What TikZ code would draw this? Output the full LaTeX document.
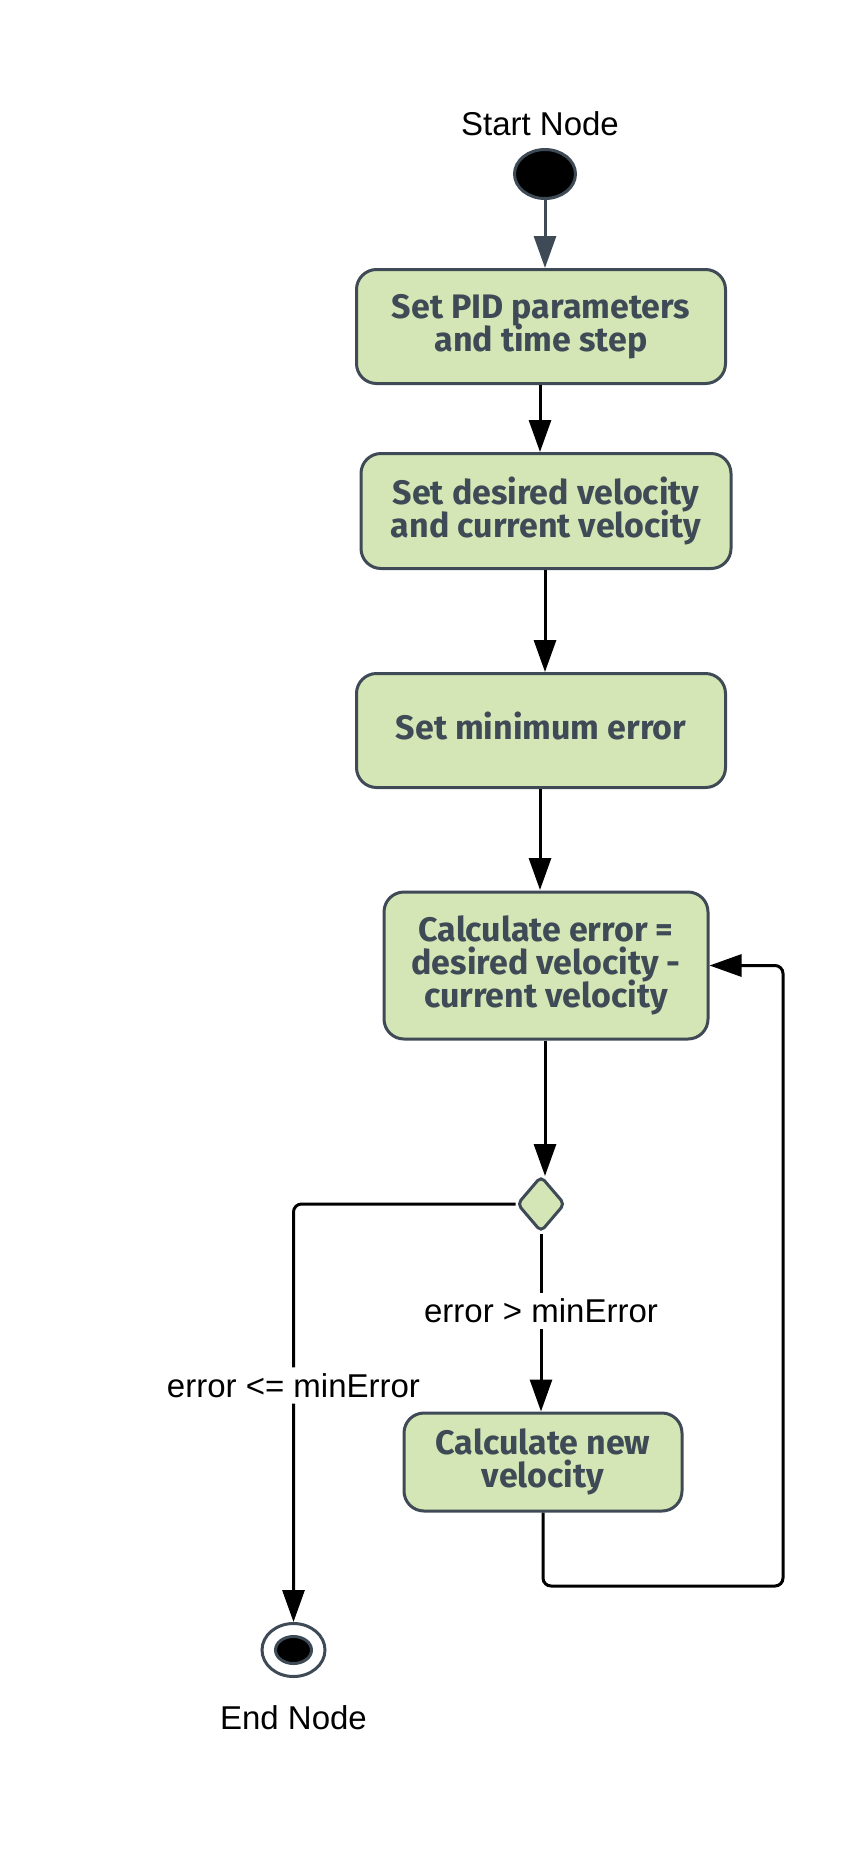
\documentclass[tikz,border=0pt]{standalone}
\usepackage{fontspec}
\setmainfont{Liberation Sans}
\newfontfamily\boxfont{Fira Sans}
\usetikzlibrary{shapes.geometric,arrows.meta}
\definecolor{actfill}{HTML}{D4E6B5}
\definecolor{actline}{HTML}{3E4A56}

\begin{document}
\begin{tikzpicture}[x=1pt,y=-1pt,
    activity/.style={draw=actline,fill=actfill,line width=3pt,rounded corners=20pt,
      align=center,text=actline,inner sep=0pt,
      font={\boxfont\bfseries\fontsize{34}{33}\selectfont\lineskiplimit=-30pt}},
    flow/.style={line width=3pt,-{Triangle[length=32pt,width=22pt]}},
    guard/.style={fill=white,inner sep=6pt,font=\fontsize{33}{38}\selectfont},
    caption/.style={font=\fontsize{33}{38}\selectfont}]
  \useasboundingbox (0,0) rectangle (861,1850);

  % start and end
  \node[caption] (startlabel) at (540,124) {Start Node};
  \node[ellipse,draw=actline,fill=black,line width=3pt,minimum width=61pt,minimum height=49pt,inner sep=0pt] (start) at (545,174) {};
  \node[caption] (endlabel) at (293.5,1718) {End Node};
  \node[ellipse,draw=actline,fill=white,line width=3pt,minimum width=63pt,minimum height=53pt,inner sep=0pt] (stop) at (293.5,1650) {};
  \node[ellipse,draw=actline,fill=black,line width=3pt,minimum width=36pt,minimum height=27pt,inner sep=0pt] (stopdot) at (stop.center) {};

  % activities
  \node[activity,minimum width=369pt,minimum height=114pt] (params) at (541,326.5) {Set PID parameters\\and time step};
  \node[activity,minimum width=370pt,minimum height=115pt] (velocity) at (546,511) {Set desired velocity\\and current velocity};
  \node[activity,minimum width=369pt,minimum height=114pt] (minerr) at (541,730.5) {\strut Set minimum error};
  \node[activity,minimum width=324pt,minimum height=147pt] (calcerr) at (546,965.5) {Calculate error =\\desired velocity -\\current velocity};
  \node[diamond,draw=actline,fill=actfill,line width=3pt,rounded corners=5pt,minimum width=48pt,minimum height=56pt,inner sep=0pt] (check) at (541,1204) {};
  \node[activity,minimum width=278pt,minimum height=98pt] (newvel) at (543,1462) {Calculate new\\velocity};
  \coordinate (loopcorner) at (783,1586);

  % connectors
  \draw[flow,draw=actline,-{Triangle[length=32pt,width=22pt,fill=actline]}] (start) -- (start.south |- params.north);
  \draw[flow] (params.south -| 540,0) -- (540,452);
  \draw[flow] (velocity.south -| 545,0) -- (545,672);
  \draw[flow] (minerr.south -| 540,0) -- (540,890);
  \draw[flow] (calcerr.south -| 545,0) -- (545,1176);
  \draw[flow] (check.south) -- node[guard,pos=0.436] {error > minError} (newvel.north -| check.south);
  \draw[flow,rounded corners=8pt] (check.west) -| node[guard,pos=0.717] {error <= minError} (stop.north);
  \draw[flow,rounded corners=8pt] (newvel.south) |- (loopcorner) |- (calcerr.east);
\end{tikzpicture}
\end{document}
